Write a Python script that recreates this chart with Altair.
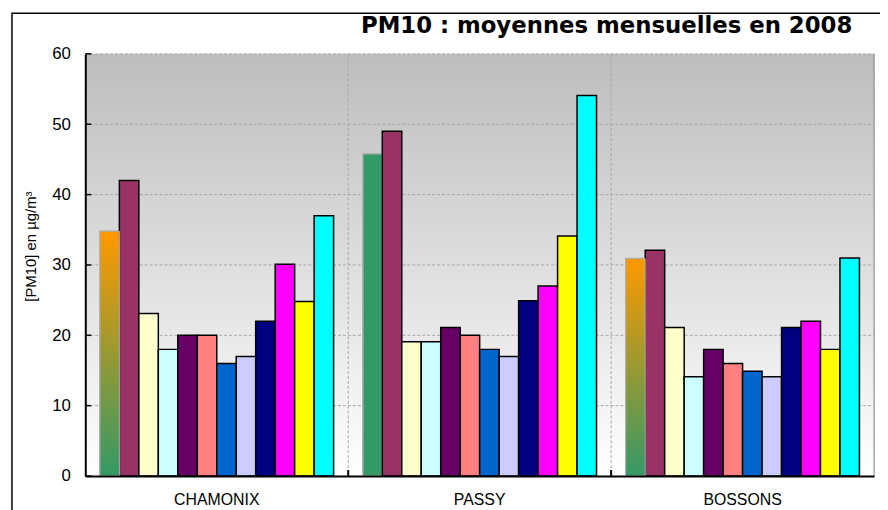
import altair as alt
import pandas as pd

sites = ["CHAMONIX", "PASSY", "BOSSONS"]
months = ["janv.", "févr.", "mars", "avr.", "mai", "juin", "juil.", "août", "sept.", "oct.", "nov.", "déc."]
chamonix = [34.8, 42.0, 23.1, 18.0, 20.0, 20.0, 16.0, 17.0, 22.0, 30.1, 24.8, 37.0]
passy = [45.8, 49.0, 19.1, 19.1, 21.1, 20.0, 18.0, 17.0, 24.9, 27.0, 34.1, 54.1]
bossons = [30.9, 32.1, 21.1, 14.1, 18.0, 16.0, 14.9, 14.1, 21.1, 22.0, 18.0, 31.0]
month_colors = ["#339966", "#993366", "#ffffcc", "#ccffff", "#660066", "#ff8080",
                "#0066cc", "#ccccff", "#000080", "#ff00ff", "#ffff00", "#00ffff"]
gradient_sites = ["CHAMONIX", "BOSSONS"]
y_ticks = [0, 10, 20, 30, 40, 50, 60]
title_text = "PM10 : moyennes mensuelles en 2008"
y_title = "[PM10] en µg/m³"

W, H = 796, 426

rows = []
for site, vals in zip(sites, [chamonix, passy, bossons]):
    for m, v in zip(months, vals):
        rows.append({"site": site, "month": m, "value": v,
                     "grad": (m == months[0] and site in gradient_sites)})
df = pd.DataFrame(rows)
df_ticks = pd.DataFrame({"value": y_ticks})
df_grid = pd.DataFrame({"value": y_ticks[1:]})
df_bound = pd.DataFrame({"site": sites[1:]})
one = pd.DataFrame({"a": [0]})

x_axis = alt.Axis(title=None, ticks=False, tickSize=0, grid=False, domainColor="black",
                  domainWidth=2, labelFont="Liberation Sans", labelFontSize=16,
                  labelColor="black", labelPadding=16, labelAngle=0, zindex=1)
y_axis = alt.Axis(values=y_ticks, title=y_title, ticks=False, tickSize=0, grid=False,
                  domainColor="black", domainWidth=2, labelFont="Liberation Sans",
                  labelFontSize=17, labelColor="black", labelPadding=15,
                  titleFont="Liberation Sans", titleFontSize=15, titleFontWeight="normal",
                  titleColor="black", titleX=-55, titleY=194, titleAngle=270,
                  titleBaseline="middle", titleAlign="center", zindex=1)
x_scale = alt.Scale(domain=sites, paddingInner=0, paddingOuter=0)
y_scale = alt.Scale(domain=[0, 60], nice=False)

def X(**kw):
    return alt.X("site:N", sort=sites, scale=x_scale, axis=x_axis, **kw)

def Y():
    return alt.Y("value:Q", scale=y_scale, axis=y_axis)

xoff = alt.XOffset("month:N", sort=months,
                   scale=alt.Scale(domain=months, paddingInner=0, paddingOuter=0.75))

bg_grad = {"gradient": "linear", "x1": 0, "x2": 0, "y1": 0, "y2": 1,
           "stops": [{"offset": 0, "color": "#bdbdbd"}, {"offset": 1, "color": "#ffffff"}]}
jan_grad = {"gradient": "linear", "x1": 0, "x2": 0, "y1": 0, "y2": 1,
            "stops": [{"offset": 0, "color": "#ff9900"}, {"offset": 1, "color": "#339966"}]}

bg = alt.Chart(one).mark_rect(color=bg_grad).encode(
    x=alt.value(0), x2=alt.value(W), y=alt.value(0), y2=alt.value(H))

hgrid = alt.Chart(df_grid).mark_rule(color="#a8a8a8", strokeDash=[3, 2], strokeWidth=1).encode(
    y=Y(), x=alt.value(0), x2=alt.value(W))

vgrid = alt.Chart(df_bound).mark_rule(color="#a8a8a8", strokeDash=[3, 2], strokeWidth=1).encode(
    x=X(bandPosition=0), y=alt.value(0), y2=alt.value(H))

bars = alt.Chart(df).mark_bar(strokeWidth=1.5).encode(
    x=X(), xOffset=xoff, y=Y(),
    color=alt.Color("month:N", scale=alt.Scale(domain=months, range=month_colors), legend=None),
    stroke=alt.condition(alt.datum.month == months[0], alt.value("#b0b0b0"), alt.value("black")))

gbars = alt.Chart(df).transform_filter(alt.datum.grad).mark_bar(
    color=jan_grad, stroke="#b0b0b0", strokeWidth=1).encode(x=X(), xOffset=xoff, y=Y())

yticks = alt.Chart(df_ticks).mark_rule(color="black", strokeWidth=1.5).encode(
    y=Y(), x=alt.value(0), x2=alt.value(6))

bticks = alt.Chart(df_bound).mark_rule(color="black", strokeWidth=2).encode(
    x=X(bandPosition=0), y=alt.value(H - 6), y2=alt.value(H))

rborder = alt.Chart(one).mark_rule(color="#8a8a8a", strokeWidth=1).encode(
    x=alt.value(W), y=alt.value(0), y2=alt.value(H))

frame = alt.Chart(one).mark_rect(filled=False, stroke="black", strokeWidth=1.5).encode(
    x=alt.value(-74), x2=alt.value(W + 40), y=alt.value(-41), y2=alt.value(H + 60))

title = alt.Chart(one).mark_text(
    text=title_text, align="right", baseline="alphabetic", font="DejaVu Sans",
    fontSize=23, fontWeight="bold", color="black").encode(
    x=alt.value(W - 22), y=alt.value(-21))

chart = alt.layer(bg, hgrid, vgrid, bars, gbars, yticks, bticks, rborder, frame, title).properties(
    width=W, height=H,
    autosize=alt.AutoSizeParams(type="none"),
    padding={"left": 78, "top": 44, "right": 6, "bottom": 32},
).configure_view(stroke=None).configure(background="white")

chart.save("out.html", embed_options={"renderer": "svg", "actions": False})
